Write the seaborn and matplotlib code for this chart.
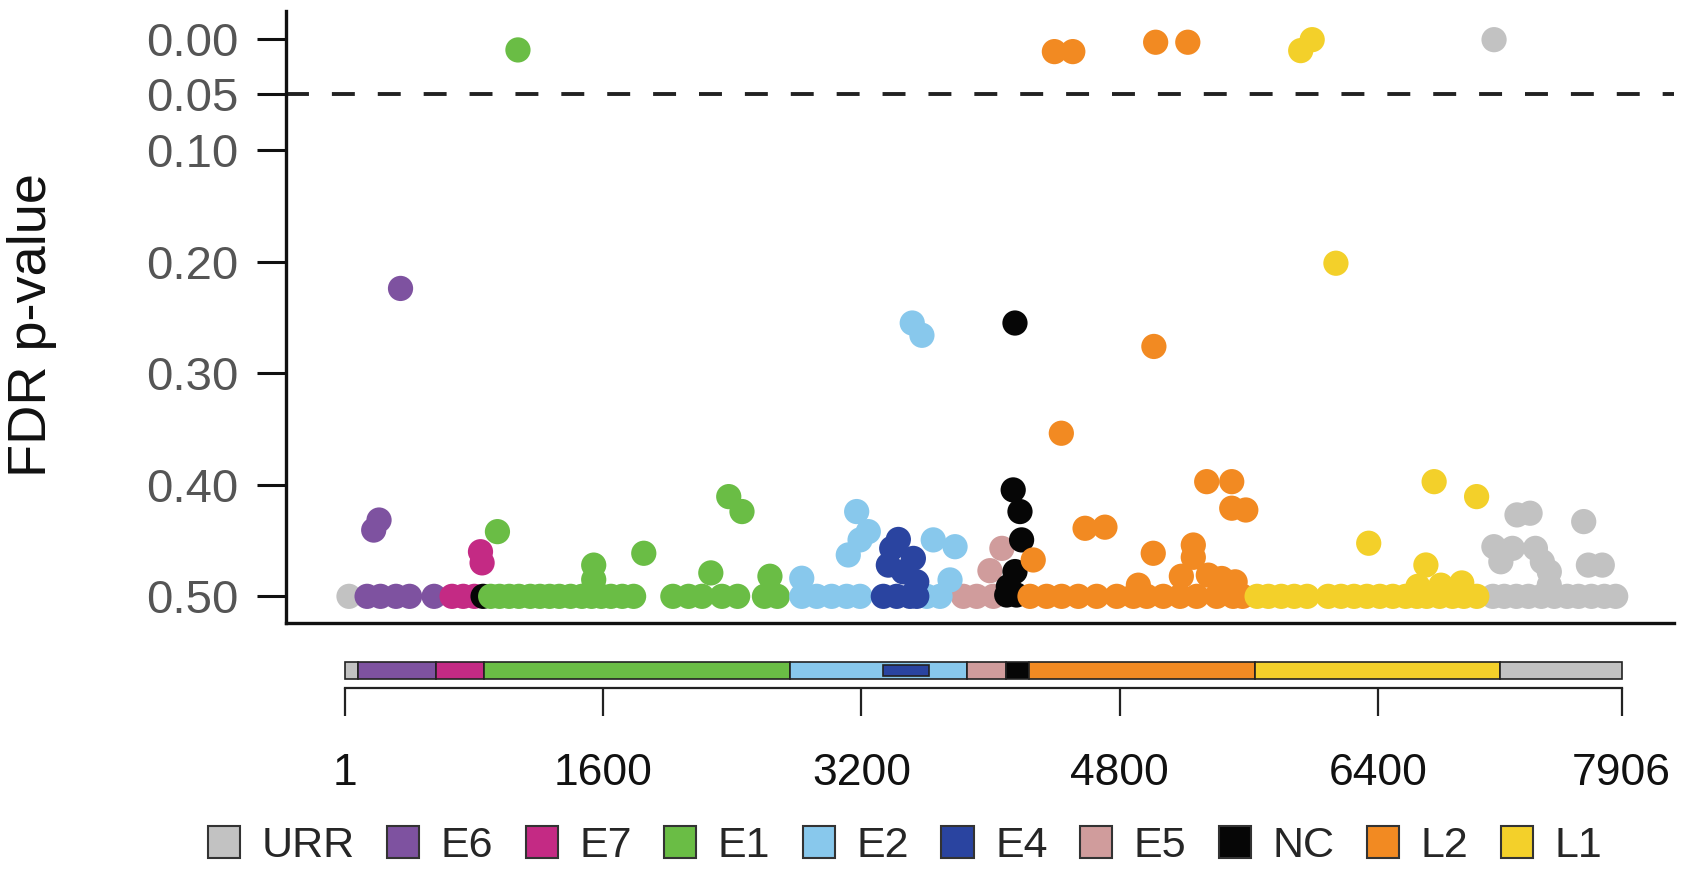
import seaborn as sns
import matplotlib.pyplot as plt
from matplotlib.patches import Patch
import pandas as pd

# FDR p-values along the HPV16 genome, one pair of lists per region
urr_pos = [28, 7117, 7110, 7180, 7255, 7330, 7410, 7490, 7570, 7640, 7720, 7800, 7870,
           7259, 7340, 7672, 7116, 7231, 7373, 7159, 7416, 7459, 7701, 7787, 7459]
urr_p = [0.50, 0.001, 0.50, 0.50, 0.50, 0.50, 0.50, 0.50, 0.50, 0.50, 0.50, 0.50, 0.50,
         0.427, 0.4255, 0.433, 0.4555, 0.457, 0.457, 0.469, 0.469, 0.478, 0.472, 0.472, 0.49]

e6_pos = [140, 223, 319, 403, 555, 181, 214, 347]
e6_p = [0.50, 0.50, 0.50, 0.50, 0.50, 0.4406, 0.4316, 0.224]

e7_pos = [666, 735, 804, 842, 852]
e7_p = [0.50, 0.50, 0.50, 0.46, 0.47]

nc_pos = [858, 4151, 4140, 4182, 4192, 4151, 4110, 4100, 4160]
nc_p = [0.50, 0.255, 0.4046, 0.424, 0.4494, 0.4778, 0.4913, 0.4988, 0.4988]

e5_pos = [3831, 3914, 4017, 4070, 3996]
e5_p = [0.50, 0.50, 0.50, 0.457, 0.477]

e1_pos = [905, 960, 1020, 1080, 1150, 1210, 1270, 1330, 1400, 1470, 1530, 1590, 1650, 1720, 1790,
          947, 1543, 1543, 1853, 1074, 2033, 2130, 2213, 2337, 2434, 2268, 2379, 2461,
          2600, 2634, 2634, 2680]
e1_p = [0.50, 0.50, 0.50, 0.50, 0.50, 0.50, 0.50, 0.50, 0.50, 0.50, 0.50, 0.50, 0.50, 0.50, 0.50,
        0.442, 0.472, 0.485, 0.4614, 0.0102, 0.50, 0.50, 0.50, 0.50, 0.50, 0.479, 0.4106, 0.424,
        0.50, 0.482, 0.497, 0.50]

e2_pos = [2831, 2924, 3016, 3109, 3192, 3605, 3687, 2831, 3171, 3243, 3192, 3119,
          3645, 3780, 3749, 3515, 3575]
e2_p = [0.50, 0.50, 0.50, 0.50, 0.50, 0.50, 0.50, 0.4838, 0.424, 0.442, 0.4494, 0.4629,
        0.4494, 0.4555, 0.4853, 0.255, 0.266]

e4_pos = [3429, 3388, 3367, 3522, 3460, 3543, 3336, 3419, 3501, 3543]
e4_p = [0.449, 0.457, 0.472, 0.466, 0.478, 0.487, 0.50, 0.50, 0.50, 0.50]

l2_pos = [4244, 4347, 4440, 4543, 4657, 4781, 4884, 4967, 5069, 5173, 5276, 5400, 5502, 5560,
          4264, 4585, 4708, 5007, 5338, 5493, 5493, 5580, 5255, 5255, 5181, 5348, 5431, 5514,
          4915, 4438, 5011, 4395, 4509, 5022, 5221]
l2_p = [0.50, 0.50, 0.50, 0.50, 0.50, 0.50, 0.50, 0.50, 0.50, 0.50, 0.50, 0.50, 0.50, 0.50,
        0.4674, 0.439, 0.438, 0.4614, 0.3972, 0.3972, 0.421, 0.4226, 0.454, 0.465, 0.482, 0.481,
        0.484, 0.487, 0.49, 0.3538, 0.276, 0.0117, 0.0117, 0.0033, 0.0033]

l1_pos = [5650, 5720, 5800, 5880, 5960, 6090, 6170, 6250, 6330, 6410, 6490, 6570, 6640, 6700,
          6780, 6860, 6930, 7010, 6341, 6746, 7009, 6695, 6646, 6788, 6917, 5920, 5991, 6138]
l1_p = [0.50, 0.50, 0.50, 0.50, 0.50, 0.50, 0.50, 0.50, 0.50, 0.50, 0.50, 0.50, 0.50, 0.50,
        0.50, 0.50, 0.50, 0.50, 0.4524, 0.3972, 0.4106, 0.4719, 0.491, 0.49, 0.488, 0.0108,
        0.001, 0.2014]

# genome map segments
seg_names = ['URR', 'E6', 'E7', 'E1', 'E2', 'E5', 'NC', 'L2', 'L1', 'URR']
seg_start = [1, 84, 567, 866, 2758, 3852, 4095, 4238, 5635, 7153]
seg_end = [84, 567, 866, 2758, 3852, 4095, 4238, 5635, 7153, 7906]
e4_start, e4_end = 3332, 3619

genome_ticks = [1, 1600, 3200, 4800, 6400, 7906]
y_ticks = [0.00, 0.05, 0.10, 0.20, 0.30, 0.40, 0.50]

legend_order = ['URR', 'E6', 'E7', 'E1', 'E2', 'E4', 'E5', 'NC', 'L2', 'L1']
colors = {'URR': '#C2C2C2', 'E6': '#7E52A0', 'E7': '#C42A84', 'E1': '#6ABD45',
          'E2': '#88C8EC', 'E4': '#2A44A0', 'E5': '#D09C9C', 'NC': '#060606',
          'L2': '#F28A22', 'L1': '#F3D02A'}

parts = [('URR', urr_pos, urr_p), ('E6', e6_pos, e6_p), ('E7', e7_pos, e7_p),
         ('E5', e5_pos, e5_p), ('NC', nc_pos, nc_p), ('E1', e1_pos, e1_p),
         ('E2', e2_pos, e2_p), ('E4', e4_pos, e4_p), ('L2', l2_pos, l2_p), ('L1', l1_pos, l1_p)]
df = pd.concat([pd.DataFrame({'pos': p, 'fdr': v, 'region': r}) for r, p, v in parts],
               ignore_index=True)

sns.set_style('ticks')
plt.rcParams['font.family'] = ['Liberation Sans', 'DejaVu Sans']

W, H = 1682, 873
fig = plt.figure(figsize=(W / 100, H / 100), dpi=100)

# main scatter panel
ax = fig.add_axes([286 / W, 1 - 623 / H, (1674 - 286) / W, (623 - 11) / H])
sns.scatterplot(data=df, x='pos', y='fdr', hue='region', palette=colors, s=330,
                linewidth=0, legend=False, ax=ax, zorder=3)
ax.axhline(0.05, color='#222222', lw=2.8, dashes=(5.9, 5.9), zorder=2)
ax.set_xlim(-362, 8231)
ax.set_ylim(0.5239, -0.0247)
ax.set_yticks(y_ticks)
ax.set_yticklabels([f'{v:.2f}' for v in y_ticks])
ax.set_xticks([])
ax.set_xlabel('')
ax.set_ylabel('')
ax.tick_params(axis='y', labelsize=34, labelcolor='#555555', length=21, width=2.2,
               pad=13, color='#111111')
sns.despine(ax=ax)
for s in ['left', 'bottom']:
    ax.spines[s].set_linewidth(2.4)
    ax.spines[s].set_color('#111111')

fig.text(32 / W, 1 - 325 / H, 'FDR p-value', rotation=90, fontsize=39,
         ha='center', va='center', color='#111111')

# genome map panel
gx = fig.add_axes([344.6 / W, 1 - 679 / H, (1621.6 - 344.6) / W, 17 / H])
widths = [e - s for s, e in zip(seg_start, seg_end)]
gx.barh([0.5] * len(seg_names), widths, left=seg_start, height=1.0,
        color=[colors[n] for n in seg_names], edgecolor='#222222', linewidth=1.2,
        clip_on=False)
gx.barh([0.5], [e4_end - e4_start], left=[e4_start], height=0.6, color=colors['E4'],
        edgecolor='#222222', linewidth=1.2, clip_on=False)
gx.set_xlim(1, 7906)
gx.set_ylim(0, 1)
gx.set_yticks([])
gx.set_xticks(genome_ticks)
gx.set_xticklabels([str(t) for t in genome_ticks])
for s in ['left', 'right', 'top']:
    gx.spines[s].set_visible(False)
gx.spines['bottom'].set_position(('outward', 6.5))
gx.spines['bottom'].set_linewidth(1.6)
gx.spines['bottom'].set_color('#222222')
gx.tick_params(axis='x', labelsize=32, labelcolor='#111111', length=20, width=1.6,
               pad=27, color='#222222')
gx.patch.set_alpha(0)

handles = [Patch(facecolor=colors[n], edgecolor='#333333', linewidth=1.5) for n in legend_order]
fig.legend(handles, legend_order, loc='center', bbox_to_anchor=(905 / W, 1 - 846 / H),
           ncol=10, frameon=False, fontsize=31, handlelength=0.75, handleheight=0.75,
           handletextpad=0.5, columnspacing=0.75, borderaxespad=0, borderpad=0)

fig.savefig('out.png', dpi=100)
